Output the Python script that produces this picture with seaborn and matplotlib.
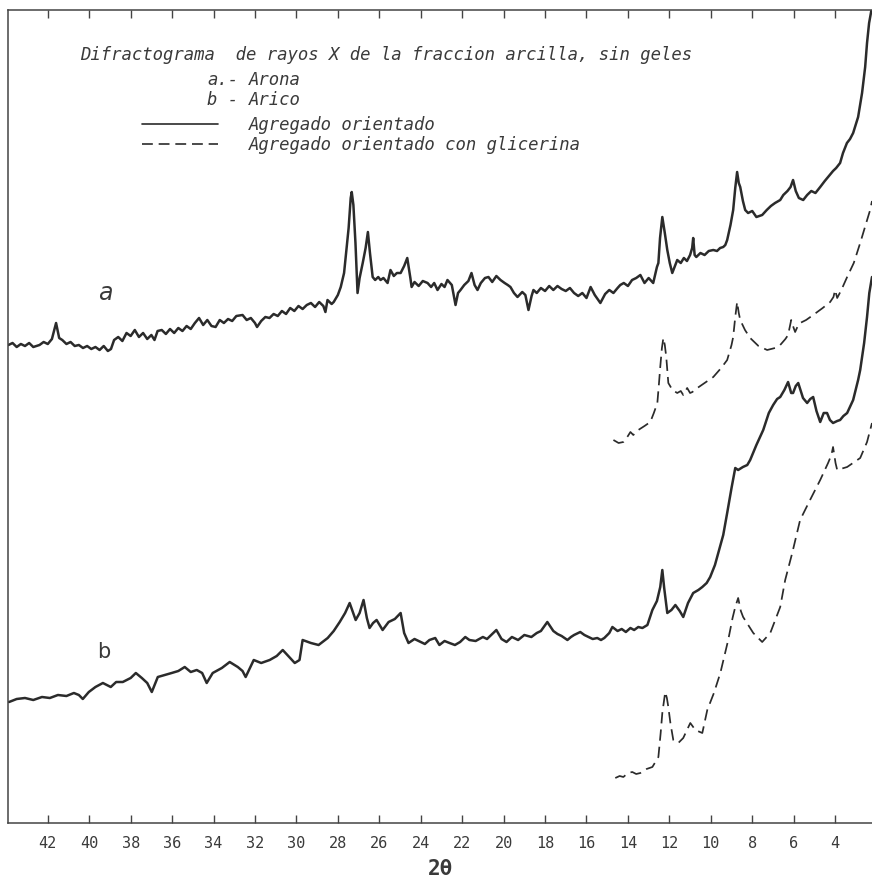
import matplotlib
matplotlib.use("Agg")
import matplotlib.pyplot as plt
import pandas as pd
import seaborn as sns

# ---- data: (2theta in degrees, relative intensity) ----
a_orientado = [
    (43.9,478),(43.7,480),(43.5,476),(43.3,479),(43.1,477),(42.9,480),(42.7,476),(42.4,478),(42.2,481),(42.0,479),
    (41.8,484),(41.6,500),(41.45,485),(41.3,483),(41.1,479),(40.9,481),(40.7,477),(40.5,478),(40.3,475),(40.1,477),
    (39.9,474),(39.7,476),(39.5,473),(39.3,477),(39.1,472),(38.95,474),(38.8,483),(38.6,486),(38.4,482),(38.2,490),
    (38.0,487),(37.8,493),(37.6,486),(37.4,490),(37.2,484),(37.0,488),(36.85,483),(36.7,492),(36.5,493),(36.3,489),
    (36.1,494),(35.9,490),(35.7,495),(35.5,492),(35.3,497),(35.1,494),(34.9,500),(34.7,505),(34.5,498),(34.3,503),
    (34.1,497),(33.9,496),(33.7,503),(33.5,500),(33.3,504),(33.1,502),(32.9,507),(32.6,508),(32.4,503),(32.2,505),
    (32.0,500),(31.9,496),(31.7,502),(31.5,506),(31.3,505),(31.1,509),(30.9,507),(30.7,512),(30.5,509),(30.3,515),
    (30.1,512),(29.9,517),(29.7,514),(29.5,518),(29.3,520),(29.1,516),(28.9,521),(28.7,517),(28.6,511),(28.5,523),
    (28.3,519),(28.2,521),(28.0,528),(27.86,536),(27.7,550),(27.6,570),(27.48,595),(27.38,625),(27.33,631),(27.25,618),
    (27.15,580),(27.05,530),(26.95,545),(26.8,560),(26.66,575),(26.55,591),(26.45,570),(26.32,546),(26.2,543),(26.05,546),
    (25.94,543),(25.8,545),(25.6,540),(25.46,553),(25.3,547),(25.15,550),(24.97,550),(24.8,557),(24.65,565),(24.5,545),
    (24.44,536),(24.3,541),(24.1,537),(23.9,542),(23.67,540),(23.5,536),(23.35,540),(23.19,533),(23.0,539),(22.85,536),
    (22.71,543),(22.5,538),(22.32,518),(22.2,530),(22.08,533),(21.9,538),(21.7,542),(21.55,550),(21.4,538),(21.26,533),
    (21.1,540),(20.9,545),(20.73,546),(20.55,541),(20.35,547),(20.15,543),(19.95,540),(19.8,538),(19.67,536),(19.5,530),
    (19.33,526),(19.1,531),(18.95,528),(18.8,513),(18.65,527),(18.56,533),(18.4,530),(18.2,535),(18.0,532),(17.8,537),
    (17.6,533),(17.4,537),(17.2,534),(17.0,532),(16.8,535),(16.6,530),(16.4,527),(16.2,530),(16.0,525),(15.8,536),
    (15.6,528),(15.33,520),(15.1,529),(14.9,533),(14.7,530),(14.5,535),(14.37,538),(14.2,540),(14.0,537),(13.8,543),
    (13.6,545),(13.4,548),(13.2,540),(13.0,545),(12.78,540),(12.6,556),(12.53,560),(12.45,585),(12.34,606),(12.22,590),
    (12.1,573),(11.98,560),(11.86,550),(11.75,556),(11.62,563),(11.45,560),(11.3,565),(11.15,562),(11.0,568),(10.9,575),
    (10.85,585),(10.78,568),(10.7,566),(10.5,570),(10.3,568),(10.1,572),(9.88,573),(9.7,572),(9.55,575),(9.4,576),
    (9.3,578),(9.21,583),(9.05,598),(8.92,613),(8.82,635),(8.73,651),(8.65,640),(8.58,636),(8.45,622),(8.34,613),
    (8.2,610),(8.0,612),(7.8,606),(7.52,608),(7.3,613),(7.1,617),(6.9,620),(6.65,623),(6.5,628),(6.3,632),
    (6.15,636),(6.03,643),(5.9,632),(5.75,625),(5.54,623),(5.35,628),(5.15,632),(4.95,630),(4.72,636),(4.5,642),
    (4.3,647),(4.1,652),(3.95,655),(3.76,660),(3.62,670),(3.43,680),(3.28,684),(3.13,690),(2.89,706),(2.70,730),
    (2.55,756),(2.46,780),(2.36,800),(2.22,816),
]

a_glicerina = [
    (14.70,383),(14.45,380),(14.22,381),(14.0,387),(13.88,391),(13.74,388),(13.5,393),(13.2,397),(12.92,401),(12.75,410),
    (12.58,420),(12.50,440),(12.44,456),(12.36,475),(12.29,485),(12.22,478),(12.15,466),(12.05,440),(11.85,433),(11.62,430),
    (11.45,432),(11.33,428),(11.14,435),(11.0,430),(10.89,431),(10.65,435),(10.3,440),(9.88,446),(9.5,455),(9.21,463),
    (9.0,478),(8.92,486),(8.82,506),(8.73,521),(8.65,510),(8.58,503),(8.35,493),(8.10,485),(7.7,477),(7.28,473),
    (6.9,475),(6.65,478),(6.4,484),(6.27,488),(6.12,503),(6.0,495),(5.93,491),(5.8,497),(5.69,500),(5.4,503),
    (5.06,508),(4.6,515),(4.24,521),(4.08,526),(4.0,533),(3.9,525),(3.7,533),(3.42,546),(3.1,560),(2.79,580),
    (2.5,600),(2.31,613),(2.22,622),
]

b_orientado = [
    (43.87,121),(43.5,124),(43.1,125),(42.7,123),(42.28,126),(41.9,125),(41.51,128),(41.1,127),(40.74,130),(40.5,128),
    (40.31,124),(40.02,131),(39.7,136),(39.34,140),(38.96,136),(38.7,141),(38.38,141),(38.0,145),(37.75,150),(37.46,145),
    (37.2,140),(36.98,131),(36.69,146),(36.35,148),(36.02,150),(35.7,152),(35.39,156),(35.1,151),(34.81,153),(34.55,150),
    (34.33,140),(34.04,150),(33.6,155),(33.22,161),(32.83,156),(32.6,152),(32.45,146),(32.06,163),(31.7,160),(31.29,163),
    (30.95,167),(30.66,173),(30.3,165),(30.08,160),(29.85,163),(29.70,183),(29.3,180),(28.93,178),(28.49,185),(28.2,192),
    (27.91,201),(27.65,210),(27.43,220),(27.14,203),(26.95,210),(26.76,223),(26.6,205),(26.47,195),(26.3,200),(26.13,203),
    (25.84,193),(25.55,201),(25.25,204),(24.97,210),(24.8,190),(24.59,180),(24.3,184),(24.1,182),(23.8,179),(23.58,183),
    (23.3,185),(23.1,178),(22.85,182),(22.61,180),(22.35,178),(22.1,181),(21.85,186),(21.65,183),(21.35,182),(21.0,186),
    (20.8,184),(20.6,188),(20.35,193),(20.1,184),(19.86,181),(19.6,186),(19.3,183),(19.0,188),(18.66,186),(18.4,190),
    (18.2,192),(17.89,201),(17.6,192),(17.4,189),(17.2,187),(16.92,183),(16.75,186),(16.6,188),(16.30,191),(16.1,188),
    (15.9,186),(15.7,184),(15.48,185),(15.3,183),(15.14,185),(14.9,190),(14.75,196),(14.5,192),(14.3,194),(14.1,191),
    (13.88,195),(13.7,193),(13.5,196),(13.3,195),(13.06,198),(12.82,213),(12.6,222),(12.44,236),(12.34,253),(12.25,235),
    (12.10,210),(11.9,213),(11.71,218),(11.5,212),(11.33,206),(11.1,220),(10.85,230),(10.6,233),(10.41,236),(10.2,240),
    (10.03,246),(9.8,258),(9.64,270),(9.40,288),(9.21,310),(9.0,335),(8.82,355),(8.68,353),(8.45,356),(8.24,358),
    (8.10,363),(7.8,378),(7.47,393),(7.2,410),(6.99,418),(6.8,424),(6.65,426),(6.45,433),(6.27,441),(6.12,430),
    (6.03,430),(5.9,437),(5.78,440),(5.55,425),(5.35,420),(5.2,424),(5.06,426),(4.9,412),(4.72,401),(4.55,410),
    (4.39,410),(4.25,403),(4.10,400),(3.9,402),(3.76,403),(3.6,407),(3.42,410),(3.13,423),(2.89,443),(2.79,453),
    (2.6,480),(2.46,506),(2.35,530),(2.22,546),
]

b_glicerina = [
    (14.61,45),(14.4,47),(14.22,46),(14.0,50),(13.79,51),(13.6,49),(13.40,50),(13.1,54),(12.82,56),(12.53,66),
    (12.42,90),(12.34,110),(12.20,131),(12.12,125),(12.05,116),(11.95,100),(11.81,83),(11.57,80),(11.33,85),(11.15,93),
    (10.99,100),(10.85,96),(10.75,93),(10.41,90),(10.17,113),(9.85,130),(9.54,150),(9.16,183),(8.95,205),(8.82,216),
    (8.68,225),(8.55,212),(8.44,206),(7.95,190),(7.52,181),(7.13,190),(6.65,216),(6.41,243),(6.07,270),(5.69,303),
    (5.21,323),(4.72,343),(4.34,360),(4.18,368),(4.10,376),(3.98,360),(3.90,353),(3.42,356),(2.79,365),(2.46,381),
    (2.22,400),
]

tick_values = list(range(4, 43, 2))
tick_labels = [str(v) for v in tick_values]

title_text = "Difractograma  de rayos X de la fraccion arcilla, sin geles"
sample_rows = [("a.-", "Arona"), ("b -", "Arico")]
legend_labels = ["Agregado orientado", "Agregado orientado con glicerina"]
curve_labels = ["a", "b"]

# ---- style ----
sns.set_style("white")
plt.rcParams["font.family"] = ["DejaVu Sans"]
letter_font = ["DejaVu Sans Mono"]   # stencil-like technical lettering
ink = "#2b2b2b"
text_ink = "#3a3a3a"

W, H = 872, 883
fig = plt.figure(figsize=(W / 100, H / 100), dpi=100)
ax = fig.add_axes([8 / W, 60 / H, 1 - 8 / W, 813 / H])


def frame(pairs):
    return pd.DataFrame(pairs, columns=["two_theta", "intensity"])


def fx(px):
    return px / W


def fy(py):
    return 1 - py / H


sns.lineplot(data=frame(a_orientado), x="two_theta", y="intensity", ax=ax, sort=False,
             estimator=None, color=ink, lw=1.8)
sns.lineplot(data=frame(a_glicerina), x="two_theta", y="intensity", ax=ax, sort=False,
             estimator=None, color=ink, lw=1.25, linestyle=(0, (6.5, 3.5)))
sns.lineplot(data=frame(b_orientado), x="two_theta", y="intensity", ax=ax, sort=False,
             estimator=None, color=ink, lw=1.8)
sns.lineplot(data=frame(b_glicerina), x="two_theta", y="intensity", ax=ax, sort=False,
             estimator=None, color=ink, lw=1.25, linestyle=(0, (6.5, 3.5)))

ax.set_xlim(43.92, 2.22)
ax.set_ylim(0, 813)
ax.set_xticks(tick_values)
ax.set_xticklabels(tick_labels, family=letter_font)
ax.set_yticks([])
ax.set_xlabel("")
ax.set_ylabel("")
ax.tick_params(axis="x", which="both", direction="in", length=6, width=1.0, color="#444",
               top=True, bottom=True, labeltop=False, labelbottom=True, pad=9,
               labelsize=11, labelcolor=text_ink)
for side in ["left", "top", "bottom"]:
    ax.spines[side].set_color("#444")
    ax.spines[side].set_linewidth(1.1)
ax.spines["right"].set_visible(False)

# x-axis title
fig.text(fx(440), fy(869), "2θ", ha="center", va="center", fontsize=15,
         fontweight="bold", color=text_ink, family=letter_font)

# header block: fit the lettering size to the width of the title line (80 -> 693 px)
title = fig.text(fx(80), fy(55), title_text, ha="left", va="center", fontsize=12,
                 style="italic", color=text_ink, family=letter_font)
fig.canvas.draw()
r = fig.canvas.get_renderer()
tw = title.get_window_extent(renderer=r).width
hsize = 12 * (693 - 80) / tw
title.set_fontsize(hsize)

for (tag, name), py in zip(sample_rows, [80, 100]):
    fig.text(fx(207), fy(py), tag, ha="left", va="center", fontsize=hsize, style="italic",
             color=text_ink, family=letter_font)
    fig.text(fx(249), fy(py), name, ha="left", va="center", fontsize=hsize, style="italic",
             color=text_ink, family=letter_font)

handles = [ax.lines[0], ax.lines[1]]
fs_px = hsize * 100 / 72
leg = ax.legend(handles, legend_labels, loc="upper left",
                bbox_to_anchor=(fx(142), fy(127 - 0.62 * fs_px)), bbox_transform=fig.transFigure,
                frameon=False, borderpad=0, borderaxespad=0,
                handlelength=76 / fs_px, handletextpad=31 / fs_px, labelspacing=0.1,
                prop={"size": hsize, "style": "italic", "family": letter_font})
for t in leg.get_texts():
    t.set_color(text_ink)
for h in leg.get_lines():
    h.set_linewidth(1.2)

# curve tags
fig.text(fx(105), fy(293), curve_labels[0], ha="center", va="center", fontsize=17,
         style="italic", color=text_ink)
fig.text(fx(104), fy(652), curve_labels[1], ha="center", va="center", fontsize=15,
         color=text_ink)

fig.savefig("out.png", dpi=100)
